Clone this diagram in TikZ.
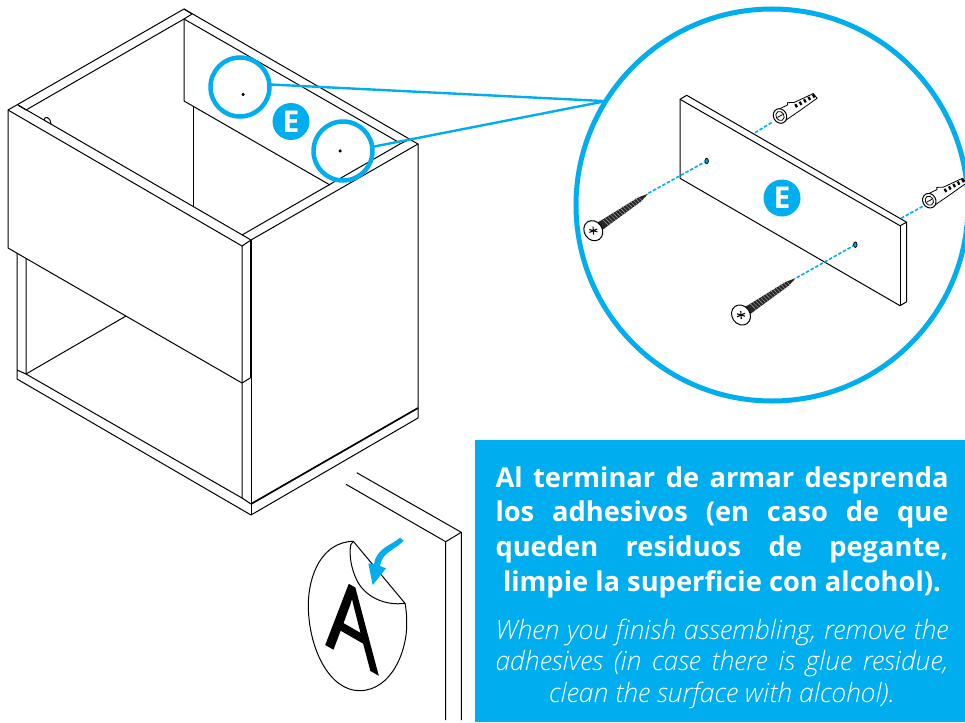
\documentclass[tikz,border=0pt]{standalone}
\usepackage{fontspec}
\setmainfont{Open Sans}
\newfontfamily\enfont{Open Sans}[ItalicFont={Open Sans Light Italic}]
\newfontfamily\signfont{Open Sans}[FakeBold=1.6]
\usetikzlibrary{calc,shapes.geometric}
\definecolor{mcyan}{HTML}{00AEEF}
\newcommand{\fitline}[1]{\makebox[453pt][s]{#1}}
\tikzset{
  edge/.style={line width=1pt,line join=round},
  heavy/.style={line width=1.7pt},
  ring/.style={circle,draw=mcyan,line width=4.5pt,minimum size=59pt,inner sep=0pt,outer sep=0pt},
  badge/.style={circle,fill=mcyan,text=white,minimum size=37pt,inner sep=0pt,font=\fontsize{30}{30}\selectfont\bfseries},
  leader/.style={draw=mcyan,line width=2.4pt},
  guide/.style={draw=mcyan,line width=1.6pt,dash pattern=on 3.5pt off 1.8pt},
  hole/.style={circle,fill=black,minimum size=3.5pt,inner sep=0pt},
  bore/.style={ellipse,draw=black,fill=mcyan,minimum width=3.5pt,minimum height=5.5pt,inner sep=0pt,line width=0.8pt},
  screw/.pic={
    \fill[black!85] (5,-4.8) -- (12,-4.2) -- (56,-2.4) -- (66,0) -- (56,2.4) -- (12,4.2) -- (5,4.8) -- cycle;
    \foreach \t in {14,17,...,56} {
      \draw[white!70!black,line width=0.4pt] (\t,-4) -- (\t+1.5,4);
    }
    \draw[fill=white,line width=1pt] (0,0) ellipse (9 and 10.5);
    \draw[line width=1.1pt,rotate=-30] (-4,-1.5) -- (4,1.5) (-4,1.5) -- (4,-1.5);
    \draw[line width=1.1pt,rotate=-30] (0,-4) -- (0,4);
  },
  plug/.pic={
    \draw[fill=white,line width=0.8pt] (3,-6.5) -- (12,-6) -- (13,-8) -- (19,-5) -- (40,-3.5) -- (41,2.5) -- (19,5) -- (3,6.5) -- cycle;
    \foreach \t in {18,23,...,38} {
      \fill (\t,-3) rectangle ++(2.2,3.6);
    }
    \draw[fill=white,line width=1pt] (0,0) ellipse (6.5 and 7.5);
    \draw[line width=0.8pt] (0,0) ellipse (4 and 4.8);
    \draw[line width=0.8pt] (-3,0) -- (3,0);
  }
}

\begin{document}
\begin{tikzpicture}[x=1pt,y=-1pt]
  \useasboundingbox (0,0) rectangle (965,722);

  % cabinet
  \draw[edge] (8,110) -- (184,9) -- (418,144) -- (418,418) -- (251,515) -- (17,379) -- (17,253);
  \draw[edge] (26,110) -- (184,19) -- (400,143);
  \draw[edge] (18,105) -- (26,110);
  \draw[edge] (184,9) -- (192,14) -- (184,19);
  \draw[edge] (184,19) -- (184,101) -- (330,185);
  \draw[edge] (193,107) -- (193,207);
  \draw[edge] (8,110) -- (8,248) -- (242,383) -- (251,377.5);
  \draw[edge] (8,110) -- (242,246) -- (251,240) -- (18,105);
  \draw[edge] (242,235) -- (400,144) -- (410,139);
  \draw[edge] (251,240) -- (418,144);
  \draw[edge] (242,246) -- (242,498) -- (251,504);
  \draw[edge] (26,258) -- (26,374) -- (242,498);
  \draw[edge] (17,370) -- (26,374) -- (126,316);
  \draw[edge] (251,504) -- (251,515);
  \draw[edge,heavy] (251,240) -- (251,377.5);
  \draw[edge] (251,377.5) -- (251,504);
  \draw[edge,heavy] (251,504) -- (418,408);
  \draw[edge] (44,120) .. controls (44.5,116) and (50,116) .. (51,124);

  % detail circle
  \node[circle,draw=mcyan,line width=5pt,minimum size=392pt,inner sep=0pt,outer sep=0pt] (detail) at (772,205) {};
  \node[hole] (dota) at (243,94.5) {};
  \node[hole] (dotb) at (340,151) {};
  \node[ring] (ringa) at (240,87) {};
  \node[ring] (ringb) at (343,151) {};
  \node[badge] (marka) at (291,121.5) {E};
  \draw[leader] (ringa.5) -- (detail.148);
  \draw[leader] (ringb.8) -- (detail.148);

  % panel
  \draw[edge,fill=white] (680,99.3) -- (686.7,95.3) -- (906.7,222.3) -- (906.7,301.7) -- (900,305.7) -- (680,178.3) -- cycle;
  \draw[edge] (680,99.3) -- (900,225.7) -- (906.7,222.3);
  \draw[edge] (900,225.7) -- (900,305.7);
  \node[badge] (markb) at (782,198) {E};
  \node[bore] (borea) at (706.7,161) {};
  \node[bore] (boreb) at (855.3,244.7) {};

  \coordinate (tipa) at (648.3,193.3);
  \coordinate (tipb) at (796.7,277.7);
  \coordinate (pluga) at (773,121.7);
  \coordinate (plugb) at (923.3,206);
  \coordinate (edgea) at (755,132.7);
  \coordinate (edgeb) at (901,218.3);
  \draw[guide] (tipa) -- (borea);
  \draw[guide] (tipb) -- (boreb);
  \draw[guide] (edgea) -- (pluga);
  \draw[guide] (edgeb) -- (plugb);

  \pic[rotate=34] at (593.3,230.7) {screw};
  \pic[rotate=34] at (741,315) {screw};
  \pic[rotate=29] at (780,116) {plug};
  \pic[rotate=29] at (929.3,200.7) {plug};

  % notice
  \fill[mcyan] (475,440) rectangle (965,722);
  \node[text=white,align=center,inner sep=0pt,font=\fontsize{27.3}{34.7}\selectfont\bfseries] (noticees) at (722,532) {%
    \fitline{Al terminar de armar desprenda}\\
    \fitline{los adhesivos (en caso de que}\\
    \fitline{queden residuos de pegante,}\\
    limpie la superficie con alcohol).};
  \node[text=white,align=center,inner sep=0pt,font=\fontsize{26.6}{31.5}\selectfont\enfont\itshape] (noticeen) at (722,664) {%
    \fitline{When you finish assembling, remove the}\\
    \fitline{adhesives (in case there is glue residue,}\\
    clean the surface with alcohol).};

  % door corner and sticker
  \draw[edge] (356.7,472.7) -- (461.3,532.3) -- (461.3,720);
  \draw[edge] (346,484.3) -- (445.7,541.7) -- (445.7,720);
  \draw[edge] (445.7,541.7) -- (461.3,532.3);
  \draw[edge] (353.3,541.3) .. controls (322,542) and (308,575) .. (308.3,606.7)
    .. controls (309,650) and (330,691) .. (360,690.7)
    .. controls (392,690) and (408,650) .. (406.7,620)
    .. controls (406.5,613) and (406,608) .. (405,603.3);
  \node[cm={0.8,-0.46,0,1,(0,0)},transform shape,font=\fontsize{102}{102}\selectfont\signfont,text=black,inner sep=0pt] (lettera) at (352,623) {A};
  \draw[edge,fill=white] (353.3,541.3) -- (405,603.3)
    .. controls (385,606) and (365,597) .. (356.7,580)
    .. controls (351,568) and (349,555) .. (350.7,545) -- cycle;
  \fill[mcyan] (400,537.7) -- (403.7,540.7) .. controls (395,550) and (382,552) .. (380,566)
    -- (386,568.3) -- (372.7,585) -- (368.3,563.3) -- (374,564.5)
    .. controls (376,548) and (392,545) .. (400,537.7) -- cycle;
\end{tikzpicture}
\end{document}
